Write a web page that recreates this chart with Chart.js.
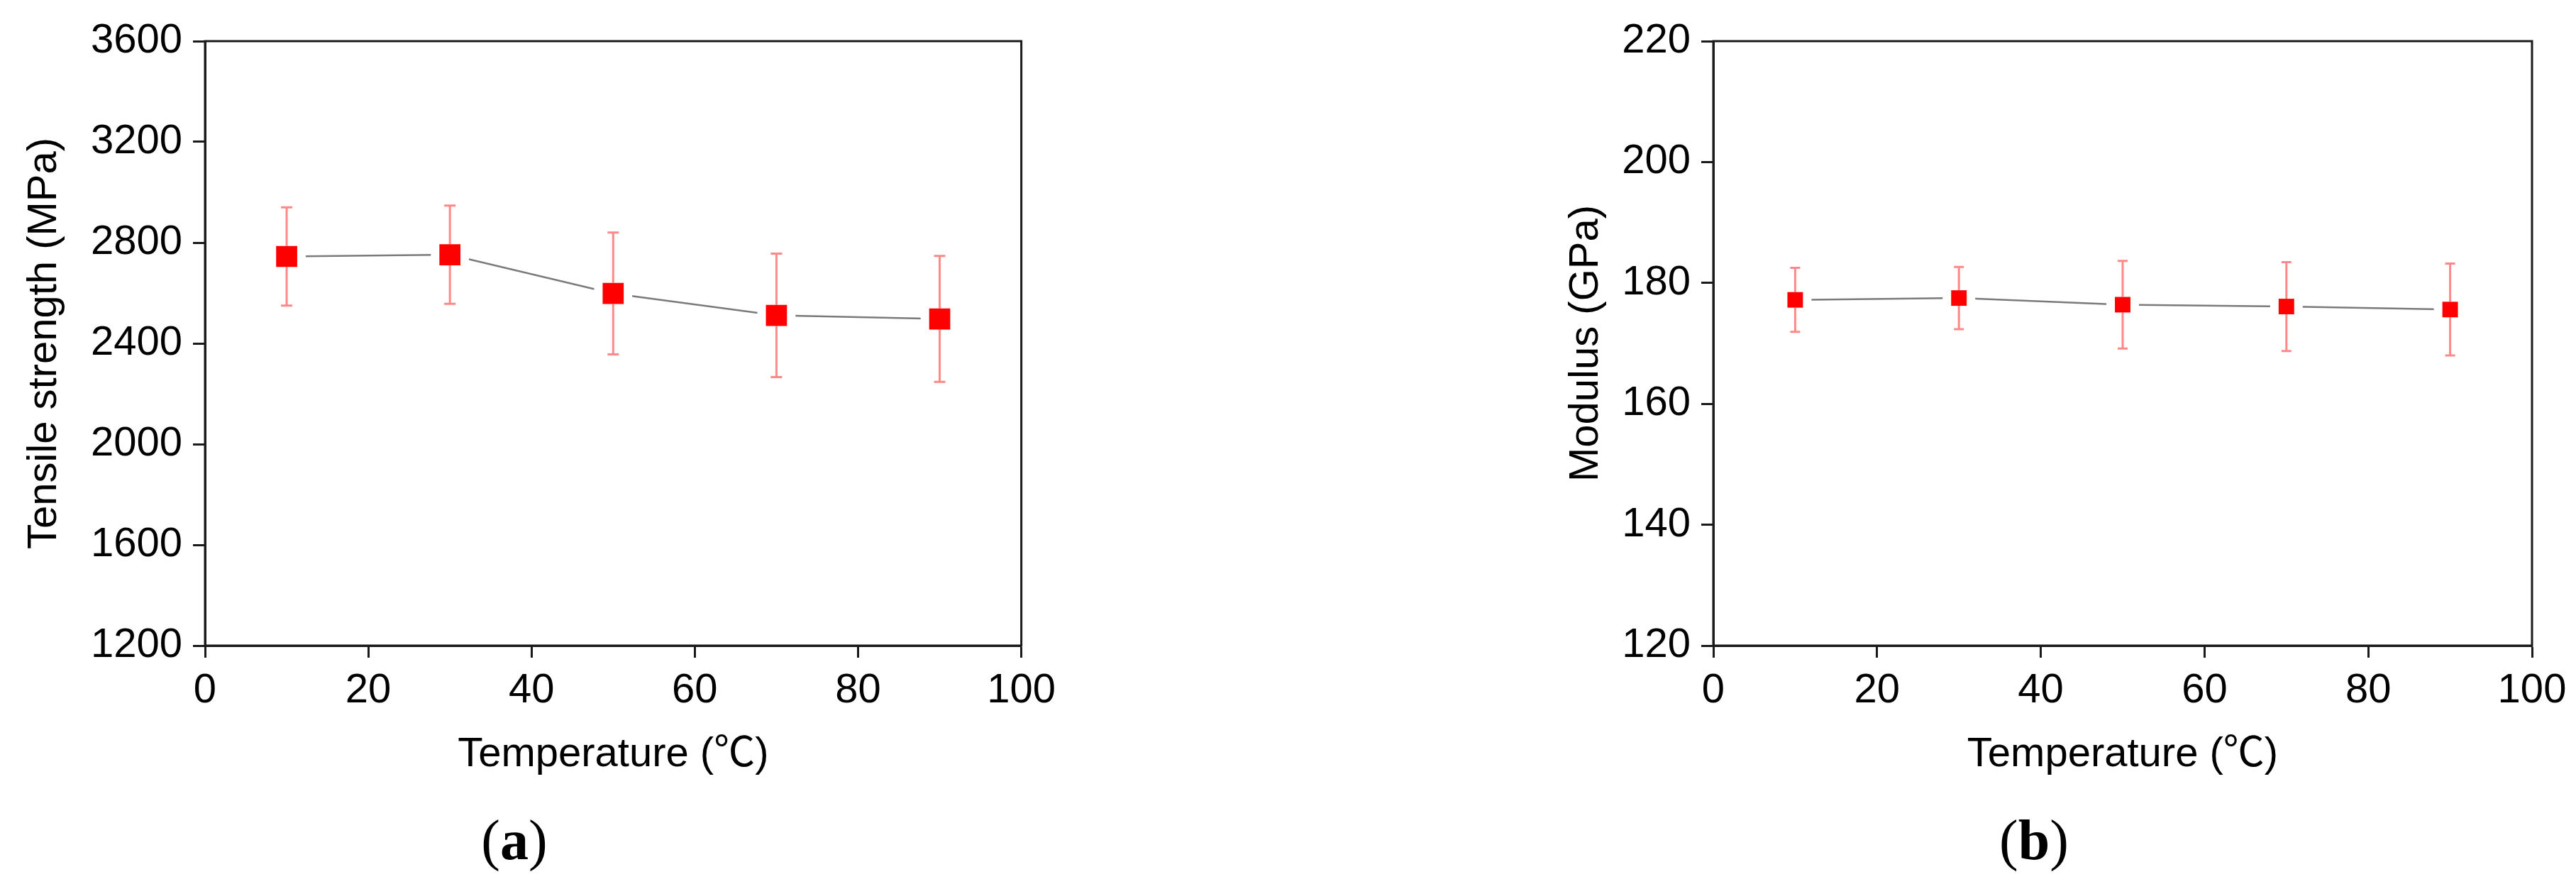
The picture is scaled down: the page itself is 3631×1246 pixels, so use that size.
<!DOCTYPE html>
<html>
<head>
<meta charset="utf-8">
<script src="https://cdn.jsdelivr.net/npm/chart.js@4.4.1/dist/chart.umd.min.js"></script>
<style>
  html, body { margin: 0; padding: 0; background: #fff; }
  body { width: 3631px; height: 1246px; position: relative; overflow: hidden; }
  .panel { position: absolute; }
  .lbl { position: absolute; font-family: "Liberation Serif", "Times New Roman", serif; font-size: 80px; line-height: 1; color: #000; transform: translateX(-50%); white-space: nowrap; }
</style>
</head>
<body>
<div class="panel" style="left:0;top:0;width:1500px;height:1100px"><canvas id="chartA"></canvas></div>
<div class="panel" style="left:2150px;top:0;width:1481px;height:1100px"><canvas id="chartB"></canvas></div>
<div class="lbl" style="left:725px;top:1144px">(<b>a</b>)</div>
<div class="lbl" style="left:2867px;top:1144px">(<b>b</b>)</div>

<script>
// temperatures (°C)
const temps = [10, 30, 50, 70, 90];
// panel (a) tensile strength, MPa
const strength    = [2745, 2752, 2598, 2511, 2497];
const strengthErr = [195, 195, 242, 245, 250];
// panel (b) modulus, GPa
const modulus    = [177.2, 177.5, 176.4, 176.1, 175.6];
const modulusErr = [5.3, 5.15, 7.25, 7.35, 7.6];

const xTicks = [0, 20, 40, 60, 80, 100];
const axisCol = '#1a1a1a';
const sans = '"Liberation Sans", Arial, "Noto Sans CJK SC", sans-serif';

// vertical error bars, drawn from the edge of the marker outwards
const errBars = {
  id: 'errbars',
  afterDatasetsDraw(chart, args, opts) {
    const meta = chart.getDatasetMeta(0);
    const ys = chart.scales.y;
    const vals = chart.data.datasets[0].data;
    const ctx = chart.ctx;
    const half = opts.half;
    ctx.save();
    ctx.strokeStyle = 'rgba(255,40,40,0.55)';
    ctx.lineWidth = 3;
    meta.data.forEach((pt, i) => {
      const v = vals[i].y, e = opts.err[i];
      const yHi = ys.getPixelForValue(v + e), yLo = ys.getPixelForValue(v - e);
      ctx.beginPath();
      ctx.moveTo(pt.x, pt.y - half); ctx.lineTo(pt.x, yHi);
      ctx.moveTo(pt.x, pt.y + half); ctx.lineTo(pt.x, yLo);
      ctx.moveTo(pt.x - opts.cap, yHi); ctx.lineTo(pt.x + opts.cap, yHi);
      ctx.moveTo(pt.x - opts.cap, yLo); ctx.lineTo(pt.x + opts.cap, yLo);
      ctx.stroke();
    });
    ctx.restore();
  }
};

// closed box round the plot area
const frame = {
  id: 'frame',
  beforeDatasetsDraw(chart) {
    const a = chart.chartArea, ctx = chart.ctx;
    ctx.save();
    ctx.strokeStyle = axisCol; ctx.lineWidth = 3;
    ctx.strokeRect(a.left, a.top, a.right - a.left, a.bottom - a.top);
    ctx.restore();
  }
};

function makeChart(id, vals, errs, cfg) {
  const pts = temps.map((t, i) => ({ x: t, y: vals[i] }));
  return new Chart(document.getElementById(id), {
    type: 'line',
    data: {
      datasets: [
        { data: pts, showLine: false, pointStyle: 'rect', pointRadius: cfg.r, pointHoverRadius: cfg.r,
          pointBackgroundColor: '#ff0000', pointBorderWidth: 0 },
        { data: pts, showLine: false, pointStyle: 'rect', pointRadius: cfg.r + 17, pointHoverRadius: cfg.r + 17,
          pointBackgroundColor: '#ffffff', pointBorderWidth: 0 },
        { data: pts, borderColor: '#7a7a7a', borderWidth: 2.5, pointRadius: 0, tension: 0, fill: false }
      ]
    },
    options: {
      responsive: true, maintainAspectRatio: false, animation: false,
      layout: { padding: cfg.pad },
      plugins: { legend: { display: false }, tooltip: { enabled: false },
                 errbars: { err: errs, half: cfg.r * Math.SQRT1_2, cap: cfg.cap } },
      scales: {
        x: {
          type: 'linear', min: 0, max: 100,
          afterBuildTicks: s => { s.ticks = xTicks.map(v => ({ value: v })); },
          afterFit: s => { s.height = cfg.xh; },
          grid: { drawOnChartArea: false, drawTicks: true, tickLength: 17, tickWidth: 3, tickColor: axisCol },
          border: { display: true, width: 3, color: axisCol },
          ticks: { color: '#000', padding: 12, maxRotation: 0, callback: v => String(v),
                   font: { family: sans, size: 58 } },
          title: { display: true, text: 'Temperature (℃)', color: '#000', padding: { top: 0, bottom: 1 },
                   font: { family: sans, size: 58 } }
        },
        y: {
          min: cfg.ymin, max: cfg.ymax,
          afterBuildTicks: s => { s.ticks = cfg.yTicks.map(v => ({ value: v })); },
          afterFit: s => { s.width = cfg.yw; },
          grid: { drawOnChartArea: false, drawTicks: true, tickLength: 17, tickWidth: 3, tickColor: axisCol },
          border: { display: true, width: 3, color: axisCol },
          ticks: { color: '#000', padding: 15, callback: v => String(v), font: { family: sans, size: 58 } },
          title: { display: true, text: cfg.ytitle, color: '#000', padding: { top: cfg.tpad, bottom: 0 },
                   font: { family: sans, size: 58 } }
        }
      }
    },
    plugins: [frame, errBars]
  });
}

makeChart('chartA', strength, strengthErr, {
  r: 21, cap: 8, ymin: 1200, ymax: 3600, yTicks: [1200, 1600, 2000, 2400, 2800, 3200, 3600],
  ytitle: 'Tensile strength (MPa)', yw: 279, xh: 190, tpad: 18,
  pad: { left: 10, top: 58, right: 53, bottom: 0 }
});
makeChart('chartB', modulus, modulusErr, {
  r: 15.5, cap: 7, ymin: 120, ymax: 220, yTicks: [120, 140, 160, 180, 200, 220],
  ytitle: 'Modulus (GPa)', yw: 255, xh: 190, tpad: 41,
  pad: { left: 10, top: 58, right: 62, bottom: 0 }
});
</script>
</body>
</html>
